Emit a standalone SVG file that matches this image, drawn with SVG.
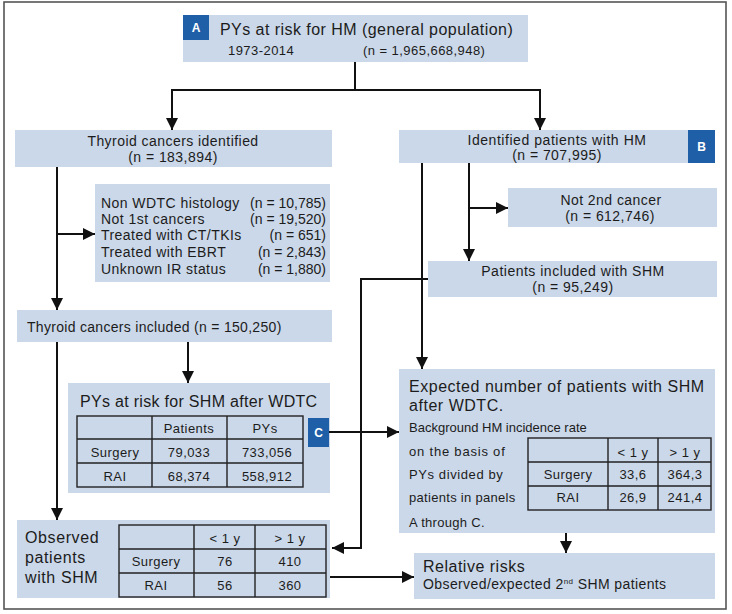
<svg xmlns="http://www.w3.org/2000/svg" width="732" height="614" viewBox="0 0 732 614">
<defs>
<marker id="ah" markerUnits="userSpaceOnUse" markerWidth="12" markerHeight="12" refX="12" refY="6" orient="auto">
<path d="M0,0 L12,6 L0,12 z" fill="#111"/>
</marker>
<style>
.bx{fill:#cbd8e9;}
.bd{fill:#1f5fa8;}
.bl{fill:#fff;font-family:"Liberation Sans",Arial,sans-serif;font-weight:bold;font-size:12px;text-anchor:middle;letter-spacing:0;}
text{font-family:"Liberation Sans",Arial,sans-serif;fill:#1c1c1c;letter-spacing:0.45px;}
.t13{font-size:13px;}
.t14{font-size:14px;}
.t15{font-size:15px;}
.t16{font-size:16px;}
.c{text-anchor:middle;}
.e{text-anchor:end;}
.ns{letter-spacing:0;}
.tb{fill:none;stroke:#222;stroke-width:1.4;}
.cn{fill:none;stroke:#111;stroke-width:2;}
</style>
</defs>
<rect x="4" y="2" width="722" height="607" fill="#fff" stroke="#555" stroke-width="1.6"/>

<g id="nodeA">
<rect class="bx" x="183" y="15" width="345" height="47"/>
<rect class="bd" x="183" y="15" width="26" height="25"/>
<text class="bl" x="196" y="32">A</text>
<text class="t16" x="220" y="35">PYs at risk for HM (general population)</text>
<text class="t13" x="228" y="55">1973-2014</text>
<text class="t13" x="363" y="55">(n = 1,965,668,948)</text>
</g>

<g id="thyroidIdentified">
<rect class="bx" x="15" y="130" width="317" height="37"/>
<text class="t14 c" x="173" y="146">Thyroid cancers identified</text>
<text class="t14 c" x="173" y="162">(n = 183,894)</text>
</g>

<g id="exclusions">
<rect class="bx" x="95" y="184" width="235" height="98"/>
<text class="t14" x="101" y="208">Non WDTC histology</text>
<text class="t14 e ns" x="326" y="208">(n = 10,785)</text>
<text class="t14" x="101" y="224">Not 1st cancers</text>
<text class="t14 e ns" x="326" y="224">(n = 19,520)</text>
<text class="t14" x="101" y="240">Treated with CT/TKIs</text>
<text class="t14 e ns" x="326" y="240">(n = 651)</text>
<text class="t14" x="101" y="257">Treated with EBRT</text>
<text class="t14 e ns" x="326" y="257">(n = 2,843)</text>
<text class="t14" x="101" y="274">Unknown IR status</text>
<text class="t14 e ns" x="326" y="274">(n = 1,880)</text>
</g>

<g id="thyroidIncluded">
<rect class="bx" x="17" y="310" width="315" height="32"/>
<text class="t14" x="27" y="332" style="letter-spacing:0.3px">Thyroid cancers included (n = 150,250)</text>
</g>

<g id="pysSHM">
<rect class="bx" x="68" y="383" width="262" height="110"/>
<text class="t16" x="80" y="407" style="letter-spacing:0.3px">PYs at risk for SHM after WDTC</text>
<rect class="tb" x="77" y="416" width="226" height="71"/>
<path class="tb" d="M77,439 H303 M77,463 H303 M152,416 V487 M227,416 V487"/>
<text class="t13 c" x="189" y="433">Patients</text>
<text class="t13 c" x="265" y="433">PYs</text>
<text class="t13 c" x="115" y="457">Surgery</text>
<text class="t13 c" x="189" y="457">79,033</text>
<text class="t13 c" x="267" y="457">733,056</text>
<text class="t13 c" x="115" y="481">RAI</text>
<text class="t13 c" x="189" y="481">68,374</text>
<text class="t13 c" x="267" y="481">558,912</text>
</g>

<g id="badgeC">
<rect class="bd" x="308" y="418" width="21" height="29"/>
<text class="bl" x="318.5" y="437">C</text>
</g>

<g id="observed">
<rect class="bx" x="17" y="520" width="313" height="78"/>
<text class="t16" x="25" y="543" style="letter-spacing:0.6px">Observed</text>
<text class="t16" x="25" y="563" style="letter-spacing:0.6px">patients</text>
<text class="t16" x="25" y="583" style="letter-spacing:0.6px">with SHM</text>
<rect class="tb" x="119" y="525" width="207" height="72"/>
<path class="tb" d="M119,549 H326 M119,573 H326 M194,525 V597 M255,525 V597"/>
<text class="t13 c" x="225" y="543">&lt; 1 y</text>
<text class="t13 c" x="290" y="543">&gt; 1 y</text>
<text class="t13 c" x="156" y="566">Surgery</text>
<text class="t13 c" x="225" y="566">76</text>
<text class="t13 c" x="290" y="566">410</text>
<text class="t13 c" x="156" y="590">RAI</text>
<text class="t13 c" x="225" y="590">56</text>
<text class="t13 c" x="290" y="590">360</text>
</g>

<g id="identifiedHM">
<rect class="bx" x="399" y="130" width="316" height="33"/>
<rect class="bd" x="688" y="130" width="27" height="33"/>
<text class="bl" x="701.5" y="151">B</text>
<text class="t14 c" x="557" y="145" style="letter-spacing:0.55px">Identified patients with HM</text>
<text class="t14 c" x="557" y="160">(n = 707,995)</text>
</g>

<g id="not2nd">
<rect class="bx" x="508" y="188" width="209" height="39"/>
<text class="t14 c" x="611" y="205">Not 2nd cancer</text>
<text class="t14 c" x="610" y="221">(n = 612,746)</text>
</g>

<g id="includedSHM">
<rect class="bx" x="428" y="261" width="289" height="36"/>
<text class="t14 c" x="573" y="276" style="letter-spacing:0.5px">Patients included with SHM</text>
<text class="t14 c" x="573" y="292">(n = 95,249)</text>
</g>

<g id="expected">
<rect class="bx" x="399" y="369" width="316" height="164"/>
<text class="t16" x="409" y="392" style="letter-spacing:0.53px">Expected number of patients with SHM</text>
<text class="t16" x="409" y="411" style="letter-spacing:0.53px">after WDTC.</text>
<text class="t13 ns" x="409" y="432">Background HM incidence rate</text>
<text class="t13" x="409" y="456" style="letter-spacing:0.8px">on the basis of</text>
<text class="t13" x="409" y="479" style="letter-spacing:0.6px">PYs divided by</text>
<text class="t13" x="409" y="502" style="letter-spacing:0.3px">patients in panels</text>
<text class="t13" x="409" y="527" style="letter-spacing:0.3px">A through C.</text>
<rect class="tb" x="528" y="438" width="183" height="72"/>
<path class="tb" d="M528,462 H711 M528,486 H711 M608,438 V510 M658,438 V510"/>
<text class="t13 c" x="633" y="457">&lt; 1 y</text>
<text class="t13 c" x="685" y="457">&gt; 1 y</text>
<text class="t13 c" x="568" y="479">Surgery</text>
<text class="t13 c" x="633" y="479">33,6</text>
<text class="t13 c" x="685" y="479">364,3</text>
<text class="t13 c" x="568" y="502">RAI</text>
<text class="t13 c" x="633" y="502">26,9</text>
<text class="t13 c" x="685" y="502">241,4</text>
</g>

<g id="relative">
<rect class="bx" x="414" y="553" width="301" height="46"/>
<text class="t16" x="423" y="572" style="letter-spacing:0.5px">Relative risks</text>
<text class="t14" x="423" y="589" style="letter-spacing:0.4px">Observed/expected 2<tspan font-size="8" dy="-5">nd</tspan><tspan dy="5"> SHM patients</tspan></text>
</g>

<g id="connectors">
<path class="cn" d="M355,62 V90"/>
<path class="cn" d="M356,90 H172 V130" marker-end="url(#ah)"/>
<path class="cn" d="M354,90 H540 V130" marker-end="url(#ah)"/>
<path class="cn" d="M57,167 V310" marker-end="url(#ah)"/>
<path class="cn" d="M57,234 H95" marker-end="url(#ah)"/>
<path class="cn" d="M57,342 V520" marker-end="url(#ah)"/>
<path class="cn" d="M188,342 V383" marker-end="url(#ah)"/>
<path class="cn" d="M422,163 V369" marker-end="url(#ah)"/>
<path class="cn" d="M469,163 V261" marker-end="url(#ah)"/>
<path class="cn" d="M469,208 H508" marker-end="url(#ah)"/>
<path class="cn" d="M428,279 H361 V548 H332" marker-end="url(#ah)"/>
<path class="cn" d="M329,432 H399" marker-end="url(#ah)"/>
<path class="cn" d="M330,577 H414" marker-end="url(#ah)"/>
<path class="cn" d="M566,533 V553" marker-end="url(#ah)"/>
</g>
</svg>
